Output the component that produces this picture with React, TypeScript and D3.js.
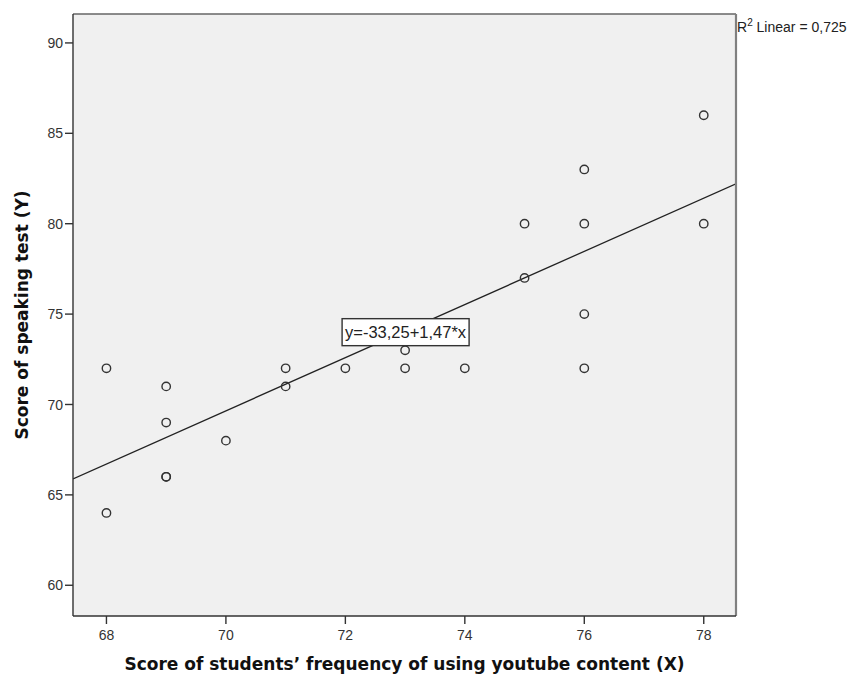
import React from "react";
import * as d3 from "d3";

const xValues = [68, 68, 69, 69, 69, 69, 70, 71, 71, 72, 73, 73, 74, 75, 75, 76, 76, 76, 76, 78, 78];
const yValues = [72, 64, 71, 69, 66, 66, 68, 72, 71, 72, 73, 72, 72, 80, 77, 83, 80, 75, 72, 86, 80];
const xTicks = [68, 70, 72, 74, 76, 78];
const yTicks = [60, 65, 70, 75, 80, 85, 90];
const intercept = -33.25;
const slope = 1.47;
const equationLabel = "y=-33,25+1,47*x";
const r2Label = "Linear = 0,725";
const xTitle = "Score of students\u2019 frequency of using youtube content (X)";
const yTitle = "Score of speaking test (Y)";

const W = 859;
const H = 679;
const left = 73;
const right = 736;
const top = 14;
const bottom = 616;

export default function App() {
  const x = d3.scaleLinear().domain([67.44, 78.54]).range([left, right]);
  const y = d3.scaleLinear().domain([58.3, 91.6]).range([bottom, top]);
  const [x0, x1] = x.domain();
  const lineGen = d3
    .line<number>()
    .x((d) => x(d))
    .y((d) => y(intercept + slope * d));
  const labelX = 73.0;
  const labelY = 74.0;
  const font = "'Liberation Sans', Arial, sans-serif";
  const titleFont = "'DejaVu Sans', Verdana, sans-serif";
  const midY = (top + bottom) / 2;
  const midX = (left + right) / 2;
  return (
    <svg width={W} height={H} style={{ position: "absolute", left: 0, top: 0 }}>
      <rect x={0} y={0} width={W} height={H} fill="#fff" />
      <rect x={left} y={top} width={right - left} height={bottom - top} fill="#f0f0f0" />
      <defs>
        <clipPath id="plot">
          <rect x={left} y={top} width={right - left} height={bottom - top} />
        </clipPath>
      </defs>
      <path d={lineGen([x0, x1]) || ""} stroke="#222" strokeWidth={1.3} fill="none" clipPath="url(#plot)" />
      {xValues.map((xv, i) => (
        <circle key={i} cx={x(xv)} cy={y(yValues[i])} r={4.2} fill="none" stroke="#333" strokeWidth={1.4} />
      ))}
      {/* frame */}
      <line x1={left} y1={top} x2={right} y2={top} stroke="#666" strokeWidth={1.6} />
      <line x1={right} y1={top} x2={right} y2={bottom} stroke="#808080" strokeWidth={2.2} />
      <line x1={left} y1={top} x2={left} y2={bottom} stroke="#333" strokeWidth={1.4} />
      <line x1={left} y1={bottom} x2={right} y2={bottom} stroke="#333" strokeWidth={1.4} />
      {yTicks.map((t) => (
        <g key={t}>
          <line x1={left - 8} x2={left} y1={y(t)} y2={y(t)} stroke="#333" strokeWidth={1.4} />
          <text x={left - 10} y={y(t)} dy="0.36em" textAnchor="end" fontFamily={font} fontSize={14} fill="#333">
            {t}
          </text>
        </g>
      ))}
      {xTicks.map((t) => (
        <g key={t}>
          <line x1={x(t)} x2={x(t)} y1={bottom} y2={bottom + 8} stroke="#333" strokeWidth={1.4} />
          <text x={x(t)} y={bottom + 24} textAnchor="middle" fontFamily={font} fontSize={14} fill="#333">
            {t}
          </text>
        </g>
      ))}
      <g>
        <rect x={x(labelX) - 63} y={y(labelY) - 13.5} width={127} height={27} fill="#fff" stroke="#333" strokeWidth={1.4} />
        <text
          x={x(labelX) - 60}
          y={y(labelY)}
          dy="0.36em"
          fontFamily={font}
          fontSize={17}
          textLength={121}
          lengthAdjust="spacingAndGlyphs"
          fill="#222"
        >
          {equationLabel}
        </text>
      </g>
      <text x={right + 1} y={32} fontFamily={font} fontSize={14} fill="#222">
        R<tspan dy={-6} fontSize={10}>2</tspan>
        <tspan dy={6}> {r2Label}</tspan>
      </text>
      <text x={midX} y={670} textAnchor="middle" fontFamily={titleFont} fontWeight="bold" fontSize={17} fill="#111">
        {xTitle}
      </text>
      <text
        transform={`translate(28,${midY}) rotate(-90)`}
        textAnchor="middle"
        fontFamily={titleFont}
        fontWeight="bold"
        fontSize={17}
        fill="#111"
      >
        {yTitle}
      </text>
    </svg>
  );
}
